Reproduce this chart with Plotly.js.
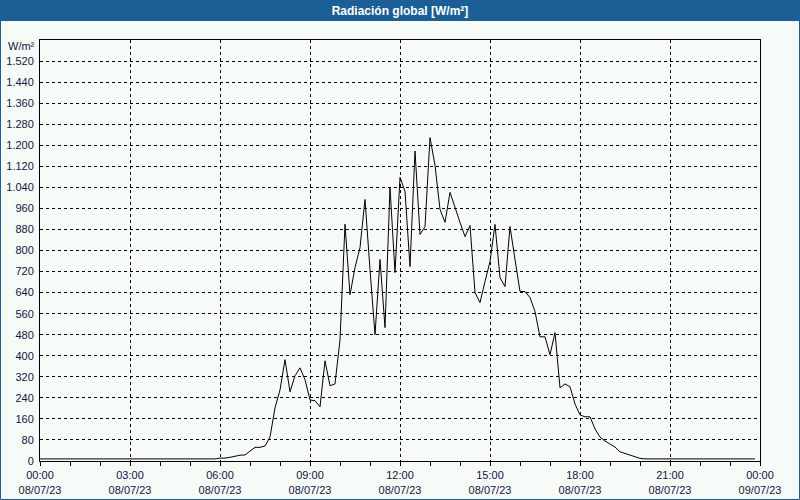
<!DOCTYPE html>
<html>
<head>
<meta charset="utf-8">
<script src="https://cdn.plot.ly/plotly-3.0.1.min.js"></script>
<style>
html,body{margin:0;padding:0;background:#f7fbf7;}
#chart{width:800px;height:500px;}
</style>
</head>
<body>
<div id="chart"></div>
<script>
// 10-minute samples of global radiation, 08/07/23 00:00 .. 23:50
const startTime = new Date(Date.UTC(2023, 6, 8, 0, 0, 0));
const stepMinutes = 10;
const radiation = [
  8,8,8,8,8,8,8,8,8,8,8,8,8,8,8,8,8,8,8,8,8,8,8,8,8,8,8,8,8,8,8,8,8,8,8,8,
  11,11,14,19,22,23,38,52,52,57,91,202,270,385,263,324,354,309,232,229,206,381,286,293,
  460,900,632,735,811,994,728,480,766,507,1040,716,1078,1025,739,1178,861,891,1229,1124,
  956,907,1021,968,907,853,895,640,602,682,758,899,697,663,891,766,644,644,621,568,
  472,472,404,488,278,293,282,217,175,168,168,122,91,76,65,53,35,29,23,15,10,
  8,8,8,8,8,8,8,8,8,8,8,8,8,8,8,8,8,8,8,8,8,8,8
];
function fmt(d){
  const p = n => String(n).padStart(2,'0');
  return d.getUTCFullYear()+'-'+p(d.getUTCMonth()+1)+'-'+p(d.getUTCDate())+' '+p(d.getUTCHours())+':'+p(d.getUTCMinutes());
}
const times = radiation.map((v,i)=>fmt(new Date(startTime.getTime()+i*stepMinutes*60000)));

const xTickVals = ['2023-07-08 00:00','2023-07-08 03:00','2023-07-08 06:00','2023-07-08 09:00','2023-07-08 12:00','2023-07-08 15:00','2023-07-08 18:00','2023-07-08 21:00','2023-07-09 00:00'];
const xTickText = ['00:00<br>08/07/23','03:00<br>08/07/23','06:00<br>08/07/23','09:00<br>08/07/23','12:00<br>08/07/23','15:00<br>08/07/23','18:00<br>08/07/23','21:00<br>08/07/23','00:00<br>09/07/23'];
const yTickVals = [0,80,160,240,320,400,480,560,640,720,800,880,960,1040,1120,1200,1280,1360,1440,1520];
const yTickText = ['0','80','160','240','320','400','480','560','640','720','800','880','960','1.040','1.120','1.200','1.280','1.360','1.440','1.520'];
const unitLabel = 'W/m²';
const chartTitle = 'Radiación global [W/m²]';

const W=800,H=500,L=40,R=40,T=40,B=39;
const pw=W-L-R, ph=H-T-B;
const px = x => (x-L)/pw;
const py = y => (H-B-y)/ph;
const blue = '#1c5f96';
const txt = '#141446';

Plotly.newPlot('chart', [{
  x: times, y: radiation, type:'scatter', mode:'lines',
  line:{color:'#000000', width:1}, hoverinfo:'skip'
}], {
  width:W, height:H,
  margin:{l:L,r:R,t:T,b:B,pad:0},
  paper_bgcolor:'#f7fbf7', plot_bgcolor:'#f7fbf7',
  showlegend:false,
  font:{family:'Liberation Sans, Arial, sans-serif', size:11, color:txt},
  title:{text:'<b>'+chartTitle+'</b>', x:0.5, xanchor:'center', y:1-10.5/H, yanchor:'middle', yref:'container',
         font:{family:'Liberation Sans, Arial, sans-serif', size:12, color:'#ffffff'}},
  xaxis:{type:'date', range:['2023-07-08 00:00','2023-07-09 00:00'],
    tickmode:'array', tickvals:xTickVals, ticktext:xTickText,
    ticks:'outside', ticklen:4, tickcolor:'#000', tickwidth:1,
    minor:{tickmode:'linear', tick0:'2023-07-08 00:00', dtick:3600000, ticks:'outside', ticklen:4, tickcolor:'#000', tickwidth:1, showgrid:false},
    showgrid:true, gridcolor:'#000', gridwidth:1, griddash:'3px,3px',
    showline:true, linecolor:'#000', linewidth:1, mirror:true, zeroline:false,
    tickfont:{size:11, color:txt}, fixedrange:true},
  yaxis:{range:[0,1600], tickmode:'array', tickvals:yTickVals, ticktext:yTickText,
    ticks:'', ticklabelstandoff:3,
    showgrid:true, gridcolor:'#000', gridwidth:1, griddash:'3px,3px',
    showline:true, linecolor:'#000', linewidth:1, mirror:true, zeroline:false,
    tickfont:{size:11, color:txt}, fixedrange:true},
  shapes:[
    {type:'rect', xref:'paper', yref:'paper', x0:px(0), x1:px(W), y0:py(21), y1:py(0), fillcolor:blue, line:{width:0}, layer:'above'},
    {type:'rect', xref:'paper', yref:'paper', x0:px(0.5), x1:px(W-0.5), y0:py(H-0.5), y1:py(0.5), fillcolor:'rgba(0,0,0,0)', line:{width:1, color:blue}, layer:'above'}
  ],
  annotations:[
    {text:unitLabel, xref:'paper', yref:'paper', x:px(37), y:py(46), xanchor:'right', yanchor:'middle', showarrow:false, font:{size:11, color:txt}}
  ]
}, {staticPlot:true, displayModeBar:false});
</script>
</body>
</html>
